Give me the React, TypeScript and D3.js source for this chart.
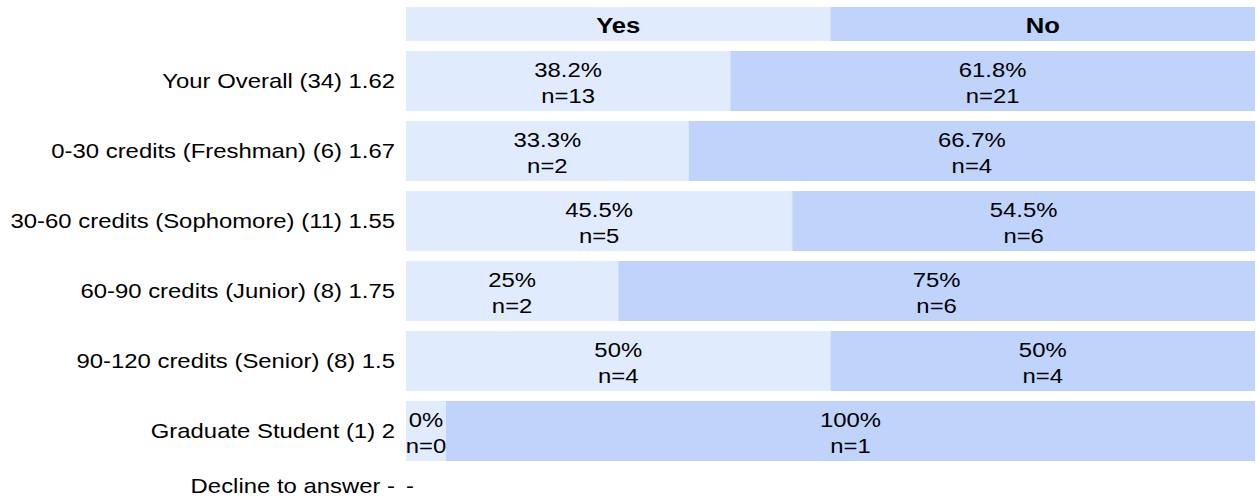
import React from 'react';
import * as d3 from 'd3';

const groups = [
  'Your Overall',
  '0-30 credits (Freshman)',
  '30-60 credits (Sophomore)',
  '60-90 credits (Junior)',
  '90-120 credits (Senior)',
  'Graduate Student',
  'Decline to answer',
];
const totals = ['34', '6', '11', '8', '8', '1', null];
const means = ['1.62', '1.67', '1.55', '1.75', '1.5', '2', '-'];
const answers = ['Yes', 'No'];
const yesPct = [38.2, 33.3, 45.5, 25, 50, 0];
const noPct = [61.8, 66.7, 54.5, 75, 50, 100];
const yesN = [13, 2, 5, 2, 4, 0];
const noN = [21, 4, 6, 6, 4, 1];

const W = 1257;
const H = 498;
const FONT = '"Liberation Sans", Arial, sans-serif';
const SX = 1.165; // text in the reference is a bit stretched horizontally
const MIN_SEG = 40; // an empty segment still gets room for its label
const yesColor = '#e1ebfe';
const noColor = '#bfd3fb';

const x = d3.scaleLinear().domain([0, 100]).range([406, 1255]);
const y = d3.scaleBand<string>().domain(groups).range([46, 536]).paddingInner(1 / 7).paddingOuter(1 / 14);
const fmt = (v: number) => `${Number.isInteger(v) ? v : v.toFixed(1)}%`;

const T = ({ x0, y0, anchor, children, size = 20.5, bold = false }: any) => (
  <text
    transform={`translate(${x0},${y0}) scale(${SX},1)`}
    textAnchor={anchor}
    fontFamily={FONT}
    fontSize={size}
    fontWeight={bold ? 'bold' : 'normal'}
    fill="#000"
  >
    {children}
  </text>
);

const Segment = ({ x0, x1, top, pct, n, fill }: any) => {
  const w = x1 - x0;
  const tx = (x0 + x1) / 2;
  const mid = top + y.bandwidth() / 2;
  return (
    <g>
      <rect x={x0} y={top} width={Math.max(0, w)} height={y.bandwidth()} fill={fill} />
      <T x0={tx} y0={mid - 4} anchor="middle">{fmt(pct)}</T>
      <T x0={tx} y0={mid + 22} anchor="middle">{`n=${n}`}</T>
    </g>
  );
};

export default function App() {
  const rows = yesPct.map((p, i) => ({ g: groups[i], yes: p, no: noPct[i], yn: yesN[i], nn: noN[i] }));
  return (
    <svg width={W} height={H} style={{ position: 'absolute', left: 0, top: 0, display: 'block', background: '#fff' }}>
      {/* header */}
      <rect x={x(0)} y={7} width={x(50) - x(0)} height={34} fill={yesColor} />
      <rect x={x(50)} y={7} width={x(100) - x(50)} height={34} fill={noColor} />
      <T x0={(x(0) + x(50)) / 2} y0={33} anchor="middle" size={22} bold>{answers[0]}</T>
      <T x0={(x(50) + x(100)) / 2} y0={33} anchor="middle" size={22} bold>{answers[1]}</T>

      {rows.map((r) => {
        const top = y(r.g) as number;
        const split = Math.max(x(r.yes), x(0) + MIN_SEG);
        return (
          <g key={r.g}>
            <Segment x0={x(0)} x1={split} top={top} pct={r.yes} n={r.yn} fill={yesColor} />
            <Segment x0={split} x1={x(100)} top={top} pct={r.no} n={r.nn} fill={noColor} />
          </g>
        );
      })}

      {groups.map((g, i) => {
        const last = i === groups.length - 1;
        const mid = last ? 486 : (y(g) as number) + y.bandwidth() / 2;
        const label = totals[i] ? `${g} (${totals[i]}) ${means[i]}` : `${g} ${means[i]}`;
        return (
          <g key={g}>
            <T x0={395} y0={mid + 7} anchor="end">{label}</T>
            {last && <T x0={406} y0={mid + 7} anchor="start">-</T>}
          </g>
        );
      })}
    </svg>
  );
}
